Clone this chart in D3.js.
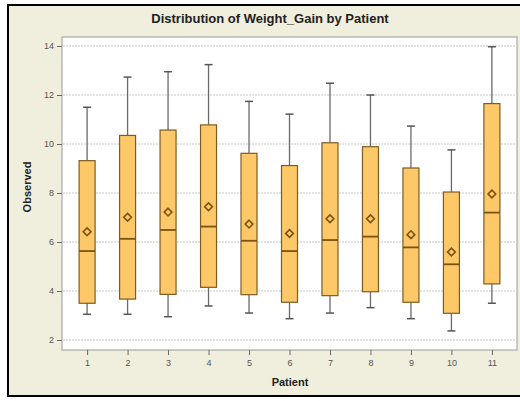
<!DOCTYPE html>
<html>
<head>
<meta charset="utf-8">
<script src="https://cdn.jsdelivr.net/npm/d3@7"></script>
<style>
  html, body { margin: 0; padding: 0; background: #ffffff; }
  svg { display: block; }
</style>
</head>
<body>
<script>
// Weight gain summary statistics per patient
const patients = ["1","2","3","4","5","6","7","8","9","10","11"];
const whiskerLow  = [3.05, 3.05, 2.95, 3.39, 3.10, 2.87, 3.10, 3.32, 2.87, 2.37, 3.50];
const q1          = [3.50, 3.67, 3.86, 4.15, 3.85, 3.54, 3.81, 3.97, 3.54, 3.09, 4.29];
const medians     = [5.63, 6.13, 6.49, 6.63, 6.05, 5.63, 6.08, 6.22, 5.78, 5.09, 7.20];
const means       = [6.42, 7.01, 7.22, 7.44, 6.73, 6.35, 6.95, 6.95, 6.30, 5.59, 7.96];
const q3          = [9.32, 10.35, 10.57, 10.78, 9.62, 9.12, 10.05, 9.89, 9.02, 8.04, 11.65];
const whiskerHigh = [11.50, 12.73, 12.95, 13.24, 11.74, 11.22, 12.48, 12.00, 10.73, 9.76, 13.97];
const yTicks = [2, 4, 6, 8, 10, 12, 14];

const W = 520, H = 401;
const plot = { left: 62, right: 517, top: 37, bottom: 350 };

const svg = d3.select("body").append("svg").attr("width", W).attr("height", H);

// Window background and frame
svg.append("rect").attr("x", 8).attr("y", 5).attr("width", W).attr("height", 391)
  .attr("fill", "#f0eedd").attr("stroke", "#000").attr("stroke-width", 2);

// Plot area
svg.append("rect")
  .attr("x", plot.left).attr("y", plot.top)
  .attr("width", plot.right - plot.left).attr("height", plot.bottom - plot.top)
  .attr("fill", "#ffffff").attr("stroke", "#9a9a9a").attr("stroke-width", 1);

const x = d3.scalePoint().domain(patients).range([plot.left, plot.right]).padding(0.62);
const y = d3.scaleLinear().domain([2, 14]).range([340, 46]);

// Gridlines
svg.append("g").selectAll("line").data(yTicks).join("line")
  .attr("x1", plot.left + 1).attr("x2", plot.right - 1)
  .attr("y1", d => y(d)).attr("y2", d => y(d))
  .attr("stroke", "#c8c8c8").attr("stroke-width", 1)
  .attr("stroke-dasharray", "2,1");

// Axes
const yAxis = svg.append("g")
  .attr("transform", `translate(${plot.left},0)`)
  .call(d3.axisLeft(y).tickValues(yTicks).tickSize(5).tickPadding(3).tickFormat(d3.format("d")));
const xAxis = svg.append("g")
  .attr("transform", `translate(0,${plot.bottom})`)
  .call(d3.axisBottom(x).tickSize(5).tickPadding(5));
[yAxis, xAxis].forEach(g => {
  g.select(".domain").remove();
  g.selectAll(".tick line").attr("stroke", "#666");
  g.selectAll(".tick text").attr("fill", "#555")
    .style("font-family", "Arial, 'Liberation Sans', sans-serif").style("font-size", "9px");
});

// Boxes
const boxW = 16, capW = 8;
const data = patients.map((p, i) => ({
  p, lo: whiskerLow[i], q1: q1[i], med: medians[i], mean: means[i], q3: q3[i], hi: whiskerHigh[i]
}));
const g = svg.append("g").selectAll("g").data(data).join("g")
  .attr("transform", d => `translate(${x(d.p)},0)`);

// Whiskers
g.append("line").attr("x1", 0).attr("x2", 0)
  .attr("y1", d => y(d.hi)).attr("y2", d => y(d.q3))
  .attr("stroke", "#6a6a6a").attr("stroke-width", 1.3);
g.append("line").attr("x1", 0).attr("x2", 0)
  .attr("y1", d => y(d.q1)).attr("y2", d => y(d.lo))
  .attr("stroke", "#6a6a6a").attr("stroke-width", 1.3);
g.append("line").attr("x1", -capW / 2).attr("x2", capW / 2)
  .attr("y1", d => y(d.hi)).attr("y2", d => y(d.hi))
  .attr("stroke", "#555").attr("stroke-width", 1.5);
g.append("line").attr("x1", -capW / 2).attr("x2", capW / 2)
  .attr("y1", d => y(d.lo)).attr("y2", d => y(d.lo))
  .attr("stroke", "#555").attr("stroke-width", 1.5);

// Interquartile box
g.append("rect")
  .attr("x", -boxW / 2).attr("width", boxW)
  .attr("y", d => y(d.q3)).attr("height", d => y(d.q1) - y(d.q3))
  .attr("fill", "#fdc867").attr("stroke", "#7d5c22").attr("stroke-width", 1.2);

// Median
g.append("line").attr("x1", -boxW / 2).attr("x2", boxW / 2)
  .attr("y1", d => y(d.med)).attr("y2", d => y(d.med))
  .attr("stroke", "#7a5212").attr("stroke-width", 1.8);

// Mean marker (diamond)
g.append("path")
  .attr("d", d3.symbol(d3.symbolDiamond2, 38)())
  .attr("transform", d => `translate(0,${y(d.mean)})`)
  .attr("fill", "#fdc867").attr("stroke", "#7a5212").attr("stroke-width", 1.6);

// Titles
const font = "Arial, 'Liberation Sans', sans-serif";
svg.append("text").attr("x", 270).attr("y", 23).attr("text-anchor", "middle")
  .style("font-family", font).style("font-size", "13px").style("font-weight", "bold")
  .attr("fill", "#222").text("Distribution of Weight_Gain by Patient");
svg.append("text").attr("x", 290).attr("y", 386).attr("text-anchor", "middle")
  .style("font-family", font).style("font-size", "11px").style("font-weight", "bold")
  .attr("fill", "#222").text("Patient");
svg.append("text").attr("transform", "translate(31,187) rotate(-90)").attr("text-anchor", "middle")
  .style("font-family", font).style("font-size", "11px").style("font-weight", "bold")
  .attr("fill", "#222").text("Observed");
</script>
</body>
</html>
